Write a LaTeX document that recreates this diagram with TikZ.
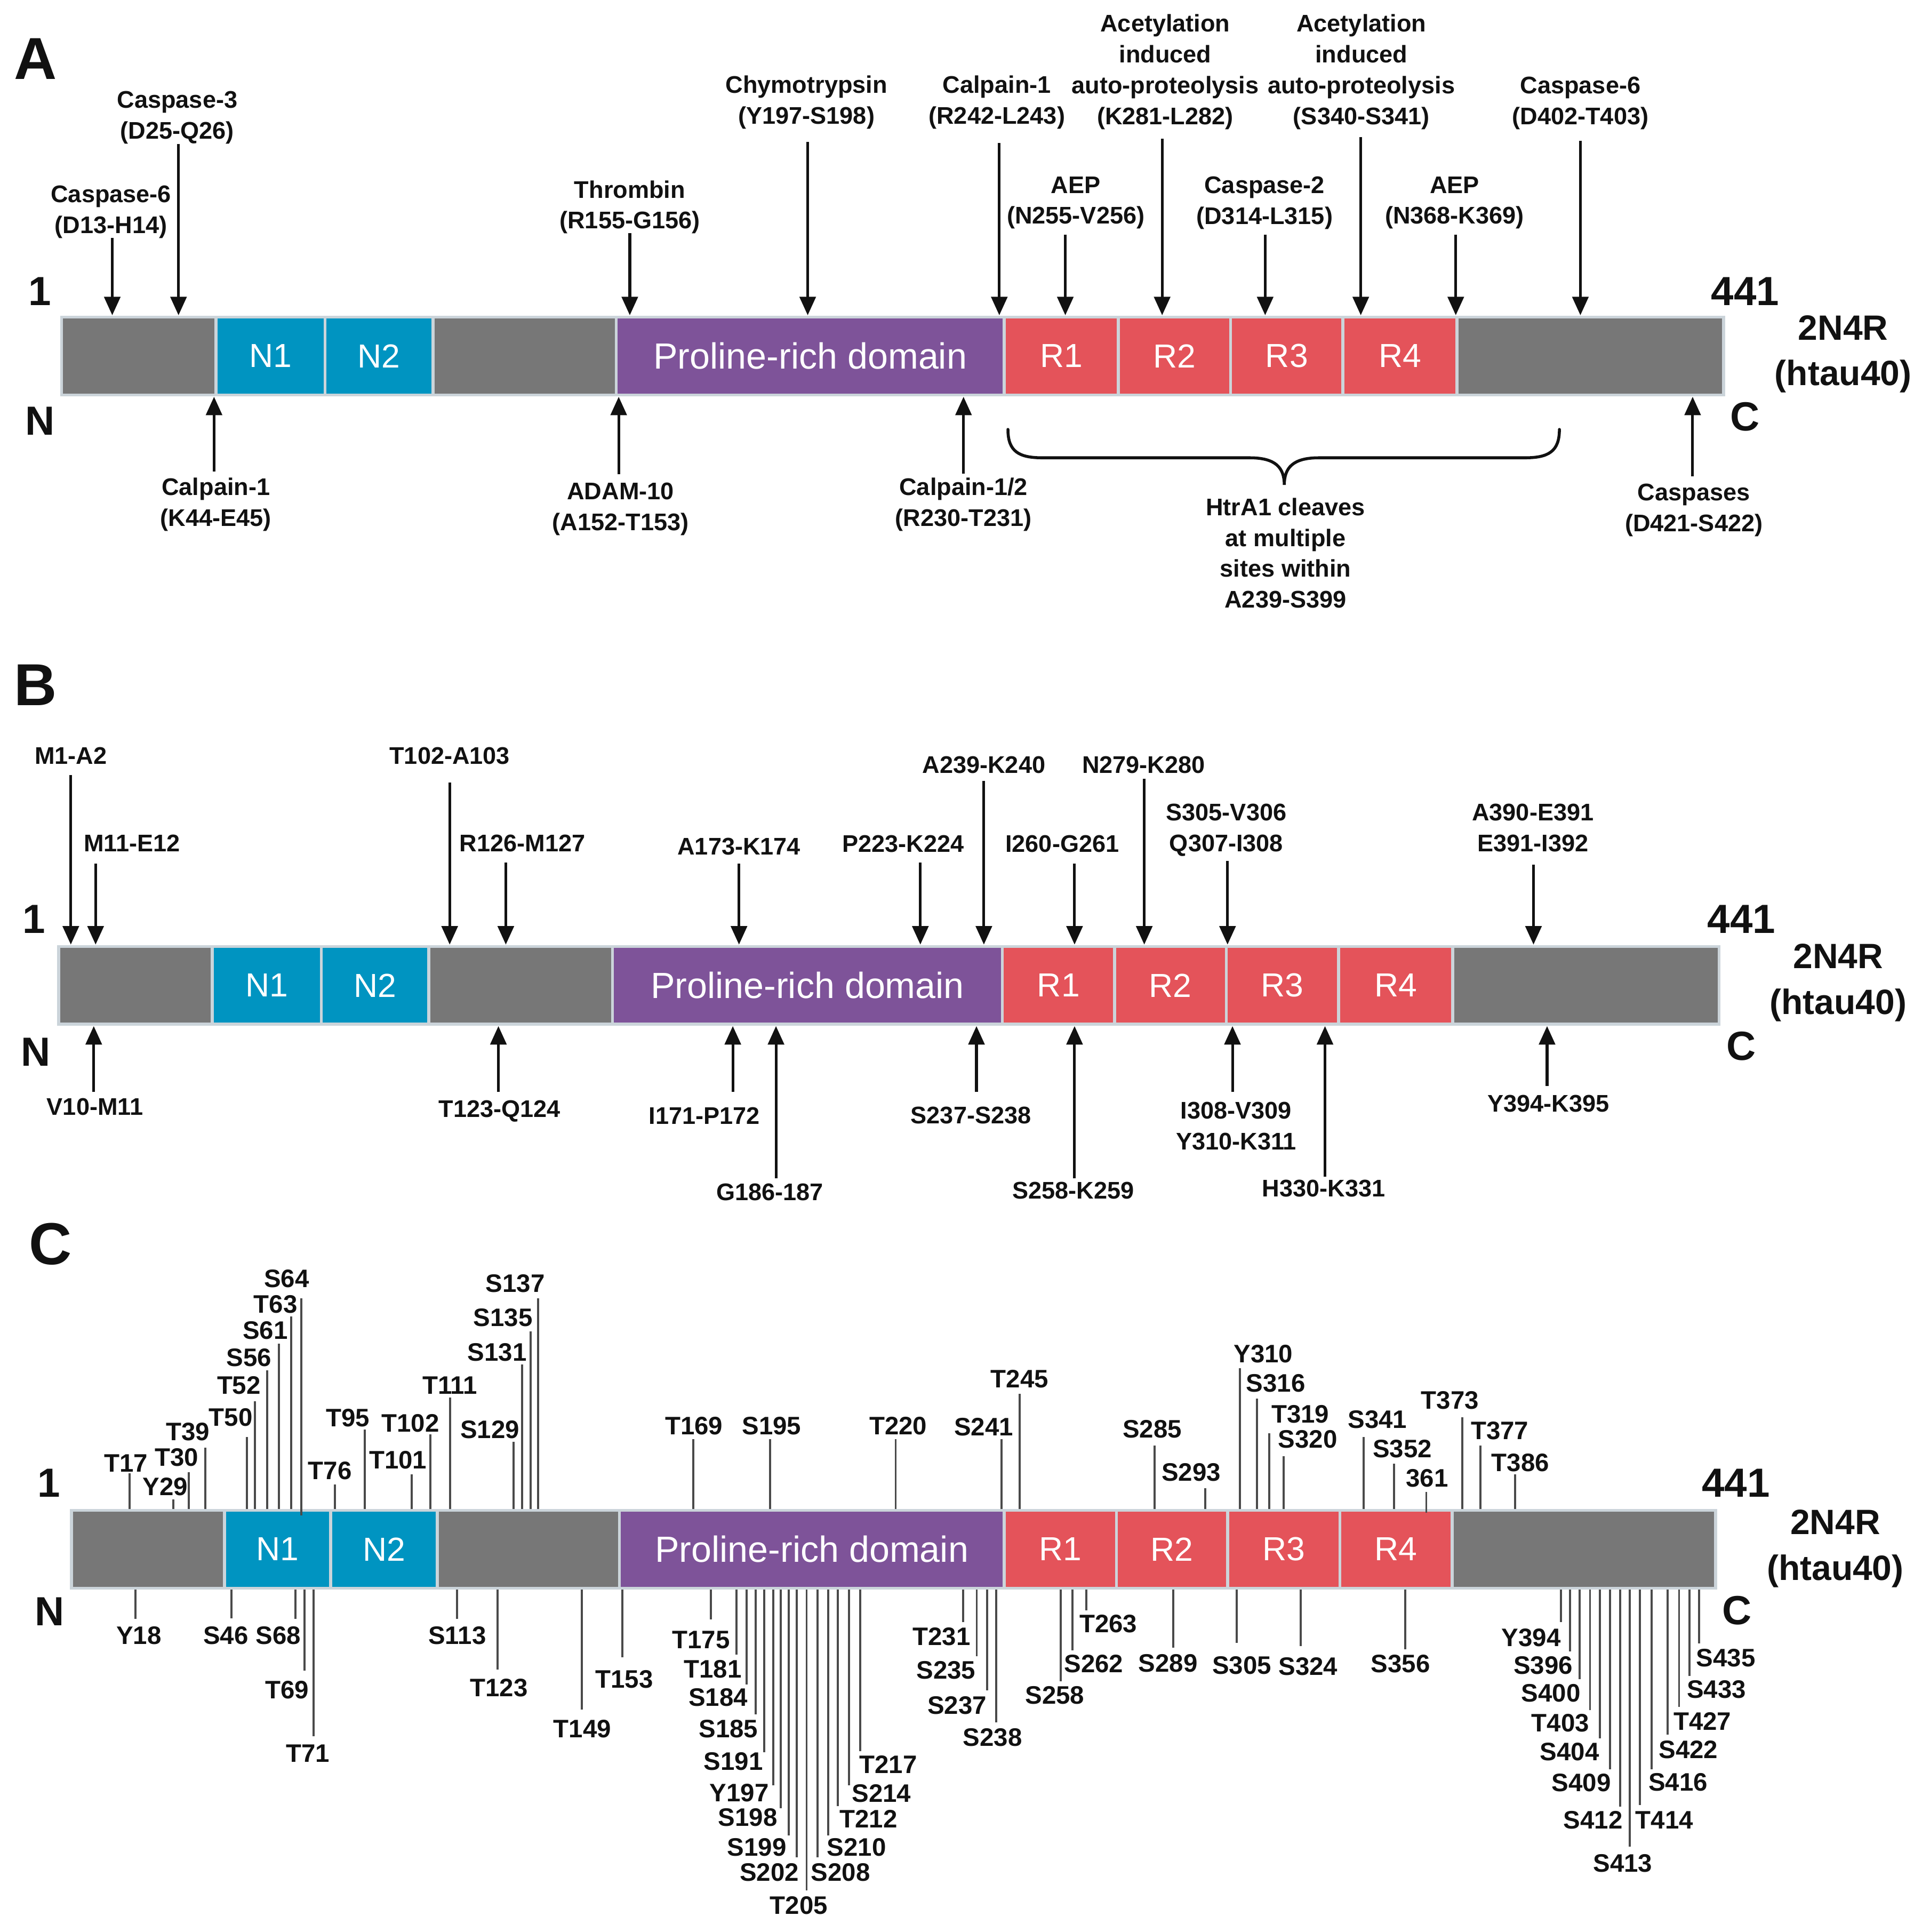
\documentclass[tikz,border=0pt]{standalone}
\usepackage{fontspec}
\setmainfont{Liberation Sans}
\usetikzlibrary{arrows.meta}
\definecolor{txt}{HTML}{111111}
\definecolor{segg}{HTML}{777777}
\definecolor{segb}{HTML}{0094C1}
\definecolor{segp}{HTML}{7E5399}
\definecolor{segr}{HTML}{E4535A}
\definecolor{barline}{HTML}{CBD4DA}
\definecolor{stickc}{HTML}{4A4A4A}
\newcommand\seg[6]{\pgfmathsetmacro\segw{#3-#2}\node[seg,fill=#5,minimum width=\segw pt] (#1) at (#2,#4) {#6};}
\newcommand\cutarrow[7]{%
  \coordinate (#1s) at (#2,#3);
  \coordinate (#1e) at (#2,#4);
  \node[lab] (#1) at (#5,#6) {#7};
  \draw[cut] (#1s) -- (#1e);}
\newcommand\site[7]{%
  \coordinate (#1s) at (#2,#3);
  \coordinate (#1e) at (#2,#4);
  \node[clab] (#1) at (#5,#6) {#7};
  \draw[stk] (#1s) -- (#1e);}
\newcommand\prd{{\fontsize{29.5}{32}\selectfont Proline-rich domain}}
\begin{document}
\begin{tikzpicture}[x=1pt,y=-1pt,
  seg/.style={draw=barline,line width=2.4pt,minimum height=63pt,inner sep=0pt,outer sep=0pt,anchor=north west,text=white,font=\fontsize{27}{30}\selectfont},
  lab/.style={font=\bfseries\fontsize{19.5}{25}\selectfont,align=center,inner sep=0pt,text=txt},
  clab/.style={font=\bfseries\fontsize{20.5}{24}\selectfont,inner sep=0pt,text=txt},
  cut/.style={line width=2.2pt,draw=txt,-{Triangle[length=15pt,width=13pt]}},
  stk/.style={line width=1.7pt,draw=stickc},
  big/.style={font=\bfseries\fontsize{33}{36}\selectfont,inner sep=0pt,text=txt},
  iso/.style={font=\bfseries\fontsize{28.5}{37}\selectfont,align=center,inner sep=0pt,text=txt},
  panel/.style={font=\bfseries\fontsize{48}{50}\selectfont,inner sep=0pt,text=txt},
  brace/.style={line width=2.4pt,draw=txt,line cap=round}]
\useasboundingbox[fill=white] (0,0) rectangle (1564,1565.7);

% ================= Panel A =================
\node[panel] (pA) at (29,47.5) {A};
\seg{aG1}{50}{175}{257}{segg}{}
\seg{aN1}{175}{263.5}{257}{segb}{N1}
\seg{aN2}{263.5}{351}{257}{segb}{N2}
\seg{aG2}{351}{499.5}{257}{segg}{}
\seg{aP}{499.5}{814}{257}{segp}{\prd}
\seg{aR1}{814}{906.5}{257}{segr}{R1}
\seg{aR2}{906.5}{997.5}{257}{segr}{R2}
\seg{aR3}{997.5}{1088.5}{257}{segr}{R3}
\seg{aR4}{1088.5}{1181}{257}{segr}{R4}
\seg{aG3}{1181}{1397}{257}{segg}{}
\node[big] (aOne) at (32.4,236) {1};
\node[big] (aN) at (32.4,341) {N};
\node[big] (a441) at (1414.5,236) {441};
\node[big] (aC) at (1414.5,337.6) {C};
\node[iso] (aIso) at (1494,287) {2N4R\\(htau40)};

\cutarrow{a1}{91}{193}{255.5}{90}{171.7}{Caspase-6\\(D13-H14)}
\cutarrow{a2}{144.7}{116.6}{255.5}{143.7}{95.3}{Caspase-3\\(D25-Q26)}
\cutarrow{a3}{510.5}{189}{255.5}{510.5}{167.9}{Thrombin\\(R155-G156)}
\cutarrow{a4}{654.7}{115}{255.5}{653.7}{83}{Chymotrypsin\\(Y197-S198)}
\cutarrow{a5}{810}{116}{255.5}{808}{83}{Calpain-1\\(R242-L243)}
\cutarrow{a6}{863.5}{190}{255.5}{872}{164.3}{AEP\\(N255-V256)}
\cutarrow{a7}{942}{112.5}{255.5}{944.5}{58.3}{Acetylation\\induced\\auto-proteolysis\\(K281-L282)}
\cutarrow{a8}{1025.5}{190}{255.5}{1025}{164.3}{Caspase-2\\(D314-L315)}
\cutarrow{a9}{1103}{111}{255.5}{1103.5}{58.3}{Acetylation\\induced\\auto-proteolysis\\(S340-S341)}
\cutarrow{a10}{1180}{190}{255.5}{1179}{164.3}{AEP\\(N368-K369)}
\cutarrow{a11}{1281}{114}{255.5}{1281}{83.5}{Caspase-6\\(D402-T403)}
\cutarrow{a12}{173.5}{382}{321.5}{175}{409}{Calpain-1\\(K44-E45)}
\cutarrow{a13}{501.5}{384.5}{321.5}{503}{412.7}{ADAM-10\\(A152-T153)}
\cutarrow{a14}{781}{384}{321.5}{781}{409}{Calpain-1/2\\(R230-T231)}
\cutarrow{a15}{1372}{386}{321.5}{1373}{413.5}{Caspases\\(D421-S422)}
\draw[brace] (817,348) .. controls (817,366) and (826,371) .. (845,371) -- (1013,371)
  .. controls (1034,371) and (1041,379) .. (1041,393)
  .. controls (1041,379) and (1048,371) .. (1069,371) -- (1236,371)
  .. controls (1255,371) and (1264,366) .. (1264,348);
\node[lab] (htra) at (1042,448.2) {HtrA1 cleaves\\at multiple\\sites within\\A239-S399};

% ================= Panel B =================
\node[panel] (pB) at (29,555) {B};
\seg{bG1}{47.5}{172}{767}{segg}{}
\seg{bN1}{172}{260.5}{767}{segb}{N1}
\seg{bN2}{260.5}{347.5}{767}{segb}{N2}
\seg{bG2}{347.5}{496.5}{767}{segg}{}
\seg{bP}{496.5}{812.5}{767}{segp}{\prd}
\seg{bR1}{812.5}{903.5}{767}{segr}{R1}
\seg{bR2}{903.5}{994}{767}{segr}{R2}
\seg{bR3}{994}{1085}{767}{segr}{R3}
\seg{bR4}{1085}{1177.5}{767}{segr}{R4}
\seg{bG3}{1177.5}{1393.5}{767}{segg}{}
\node[big] (bOne) at (27.5,745) {1};
\node[big] (bN) at (29,852.4) {N};
\node[big] (b441) at (1411.6,745) {441};
\node[big] (bC) at (1411.6,847.7) {C};
\node[iso] (bIso) at (1490,796.3) {2N4R\\(htau40)};

\cutarrow{b1}{57.4}{628}{765.5}{57.4}{612.5}{M1-A2}
\cutarrow{b2}{77.5}{700}{765.5}{107}{683.5}{M11-E12}
\cutarrow{b3}{364.5}{634}{765.5}{364.5}{612.5}{T102-A103}
\cutarrow{b4}{410}{699}{765.5}{423.5}{683.5}{R126-M127}
\cutarrow{b5}{599}{700}{765.5}{599}{686}{A173-K174}
\cutarrow{b6}{746}{699}{765.5}{732}{684}{P223-K224}
\cutarrow{b7}{797.5}{632.7}{765.5}{797.5}{620}{A239-K240}
\cutarrow{b8}{871}{699.7}{765.5}{861}{684}{I260-G261}
\cutarrow{b9}{927.5}{631}{765.5}{927}{620}{N279-K280}
\cutarrow{b10}{995}{697.6}{765.5}{994}{672.8}{S305-V306\\Q307-I308}
\cutarrow{b11}{1243}{700.7}{765.5}{1242.5}{671}{A390-E391\\E391-I392}
\cutarrow{b12}{76}{885}{831.5}{77}{897}{V10-M11}
\cutarrow{b13}{404}{885}{831.5}{405}{900.7}{T123-Q124}
\cutarrow{b14}{594}{885}{831.5}{571}{904}{I171-P172}
\cutarrow{b15}{629}{955}{831.5}{624}{966}{G186-187}
\cutarrow{b16}{791.5}{885}{831.5}{787}{904}{S237-S238}
\cutarrow{b17}{871}{955}{831.5}{870}{964.6}{S258-K259}
\cutarrow{b18}{999}{885}{831.5}{1002}{912.7}{I308-V309\\Y310-K311}
\cutarrow{b19}{1074}{953.7}{831.5}{1073}{963}{H330-K331}
\cutarrow{b20}{1254}{880}{831.5}{1255}{894.5}{Y394-K395}

% ================= Panel C =================
\node[panel] (pC) at (41,1008) {C};
\seg{cG1}{58}{182}{1224}{segg}{}
\seg{cN1}{182}{268}{1224}{segb}{N1}
\seg{cN2}{268}{354.5}{1224}{segb}{N2}
\seg{cG2}{354.5}{502}{1224}{segg}{}
\seg{cP}{502}{814}{1224}{segp}{\prd}
\seg{cR1}{814}{905}{1224}{segr}{R1}
\seg{cR2}{905}{995}{1224}{segr}{R2}
\seg{cR3}{995}{1086}{1224}{segr}{R3}
\seg{cR4}{1086}{1177}{1224}{segr}{R4}
\seg{cG3}{1177}{1390.5}{1224}{segg}{}
\node[big] (cOne) at (39.7,1202) {1};
\node[big] (cN) at (40.4,1306) {N};
\node[big] (c441) at (1407,1202) {441};
\node[big] (cC) at (1408,1305) {C};
\node[iso] (cIso) at (1487.6,1255) {2N4R\\(htau40)};

% top sites
\site{cT17}{105.2}{1222.8}{1194}{102}{1186}{T17}
\site{cY29}{140.6}{1222.8}{1215}{134}{1205}{Y29}
\site{cT30}{152.9}{1222.8}{1193}{143.3}{1181}{T30}
\site{cT39}{166.4}{1222.8}{1173.3}{152.2}{1160.4}{T39}
\site{cT50}{200.2}{1222.8}{1164.4}{187}{1148.5}{T50}
\site{cT52}{206.8}{1222.8}{1135.6}{193.6}{1122.7}{T52}
\site{cS56}{216.7}{1222.8}{1110.4}{201.8}{1100.4}{S56}
\site{cS61}{226}{1222.8}{1089}{215}{1078}{S61}
\site{cT63}{236}{1222.8}{1066.7}{223.4}{1057}{T63}
\site{cS64}{244.2}{1228}{1052.2}{232.3}{1036.3}{S64}
\site{cT76}{271.3}{1222.8}{1203}{267.4}{1192}{T76}
\site{cT95}{295.5}{1222.8}{1158.4}{282}{1149}{T95}
\site{cT101}{333.6}{1222.8}{1195}{322.6}{1183}{T101}
\site{cT102}{349}{1222.8}{1162.4}{332.6}{1153.4}{T102}
\site{cT111}{365}{1222.8}{1132.6}{364.7}{1122.7}{T111}
\site{cS129}{416.3}{1222.8}{1168.3}{397}{1158.4}{S129}
\site{cS131}{423}{1222.8}{1105.8}{403}{1095.9}{S131}
\site{cS135}{430}{1222.8}{1079}{407.7}{1068}{S135}
\site{cS137}{436}{1222.8}{1052.2}{417.6}{1040.3}{S137}
\site{cT169}{561.8}{1222.8}{1166.3}{562.5}{1155.4}{T169}
\site{cS195}{624}{1222.8}{1166.3}{625.4}{1155.4}{S195}
\site{cT220}{726}{1222.8}{1166.3}{728}{1155.4}{T220}
\site{cS241}{812}{1222.8}{1166.3}{797.4}{1156.4}{S241}
\site{cT245}{826.5}{1222.8}{1129.6}{826.5}{1117.7}{T245}
\site{cS285}{935.7}{1222.8}{1171.3}{934}{1158}{S285}
\site{cS293}{977}{1222.8}{1206}{965.5}{1193}{S293}
\site{cY310}{1005.2}{1222.8}{1108.8}{1024}{1097}{Y310}
\site{cS316}{1019}{1222.8}{1133.6}{1034}{1121}{S316}
\site{cT319}{1029}{1222.8}{1161.4}{1054}{1146}{T319}
\site{cS320}{1040.3}{1222.8}{1180.2}{1060}{1166.5}{S320}
\site{cS341}{1105.4}{1222.8}{1164.4}{1116.5}{1150.5}{S341}
\site{cS352}{1130}{1222.8}{1186.2}{1136.7}{1174.3}{S352}
\site{c361}{1156.1}{1226}{1209}{1156.8}{1198}{361}
\site{cT373}{1185.3}{1222.8}{1148.5}{1175.3}{1134.6}{T373}
\site{cT377}{1199.8}{1222.8}{1171.3}{1215.6}{1159.4}{T377}
\site{cT386}{1228}{1222.8}{1195}{1232.4}{1185.2}{T386}

% bottom sites
\site{cY18}{109.9}{1288.2}{1312}{112.5}{1325.5}{Y18}
\site{cS46}{187.6}{1288.2}{1311.5}{183}{1325.5}{S46}
\site{cS68}{239.6}{1288.2}{1312}{225.5}{1325.5}{S68}
\site{cT69}{246.9}{1288.2}{1354}{232.6}{1369.5}{T69}
\site{cT71}{254.1}{1288.2}{1407}{249.5}{1421}{T71}
\site{cS113}{370.6}{1288.2}{1312}{370.6}{1325.5}{S113}
\site{cT123}{403.4}{1288.2}{1353}{404.4}{1368}{T123}
\site{cT149}{471.5}{1288.2}{1385.5}{472}{1401}{T149}
\site{cT153}{504.3}{1288.2}{1343}{506}{1361}{T153}
\site{cT175}{576.3}{1288.2}{1312.5}{568.3}{1329}{T175}
\site{cT181}{597}{1288.2}{1341}{577.7}{1352.5}{T181}
\site{cS184}{605.3}{1288.2}{1365}{582.1}{1375.5}{S184}
\site{cS185}{612.4}{1288.2}{1389.5}{590.4}{1401}{S185}
\site{cS191}{619.3}{1288.2}{1420}{594.5}{1427.5}{S191}
\site{cY197}{626.8}{1288.2}{1447}{599.2}{1453}{Y197}
\site{cS198}{632.8}{1288.2}{1465.5}{606.1}{1473}{S198}
\site{cS199}{639.2}{1288.2}{1487.5}{613.5}{1497}{S199}
\site{cS202}{646}{1288.2}{1505}{623.5}{1517.5}{S202}
\site{cT205}{653.8}{1288.2}{1532}{647.5}{1544}{T205}
\site{cS208}{662.6}{1288.2}{1505}{681.4}{1517.5}{S208}
\site{cS210}{671.4}{1288.2}{1487.5}{694.3}{1497}{S210}
\site{cT212}{679.2}{1288.2}{1463.5}{704}{1474}{T212}
\site{cS214}{688}{1288.2}{1447}{714.5}{1453.5}{S214}
\site{cT217}{697.4}{1288.2}{1419}{720}{1430}{T217}
\site{cT231}{780.6}{1288.2}{1314.5}{763.2}{1326.5}{T231}
\site{cS235}{791.7}{1288.2}{1342}{766.8}{1353.5}{S235}
\site{cS237}{800}{1288.2}{1370}{775.7}{1382}{S237}
\site{cS238}{807.4}{1288.2}{1396}{804.6}{1408}{S238}
\site{cS258}{859.8}{1288.2}{1362.5}{855}{1374}{S258}
\site{cS262}{869.4}{1288.2}{1337.5}{886.5}{1348.5}{S262}
\site{cT263}{880.4}{1288.2}{1305}{898.3}{1316}{T263}
\site{cS289}{950.9}{1288.2}{1335.2}{946.7}{1348}{S289}
\site{cS305}{1002.4}{1288.2}{1331.6}{1006.6}{1349.5}{S305}
\site{cS324}{1054.3}{1288.2}{1333.8}{1060.3}{1350.5}{S324}
\site{cS356}{1138.9}{1288.2}{1336.6}{1135.3}{1348.5}{S356}
\site{cY394}{1265.2}{1288.2}{1314.5}{1241.2}{1327}{Y394}
\site{cS396}{1272.8}{1288.2}{1338.3}{1250.8}{1349.7}{S396}
\site{cS400}{1280.4}{1288.2}{1361}{1257.2}{1372}{S400}
\site{cT403}{1288.8}{1288.2}{1385.7}{1264.7}{1396.2}{T403}
\site{cS404}{1296.9}{1288.2}{1408.9}{1272.3}{1419.6}{S404}
\site{cS409}{1305.2}{1288.2}{1433.7}{1281.7}{1444.8}{S409}
\site{cS412}{1313.3}{1288.2}{1464.3}{1291.3}{1475}{S412}
\site{cS413}{1321}{1288.2}{1496.6}{1315.4}{1509.8}{S413}
\site{cT414}{1329.3}{1288.2}{1462.6}{1349}{1475}{T414}
\site{cS416}{1338.7}{1288.2}{1433.7}{1360.2}{1444.4}{S416}
\site{cS422}{1351.6}{1288.2}{1405.6}{1368.5}{1418}{S422}
\site{cT427}{1361}{1288.2}{1383.3}{1379.9}{1394.8}{T427}
\site{cS433}{1369.3}{1288.2}{1358.4}{1391.3}{1369.2}{S433}
\site{cS435}{1377.4}{1288.2}{1332}{1398.9}{1343.6}{S435}
\end{tikzpicture}
\end{document}
